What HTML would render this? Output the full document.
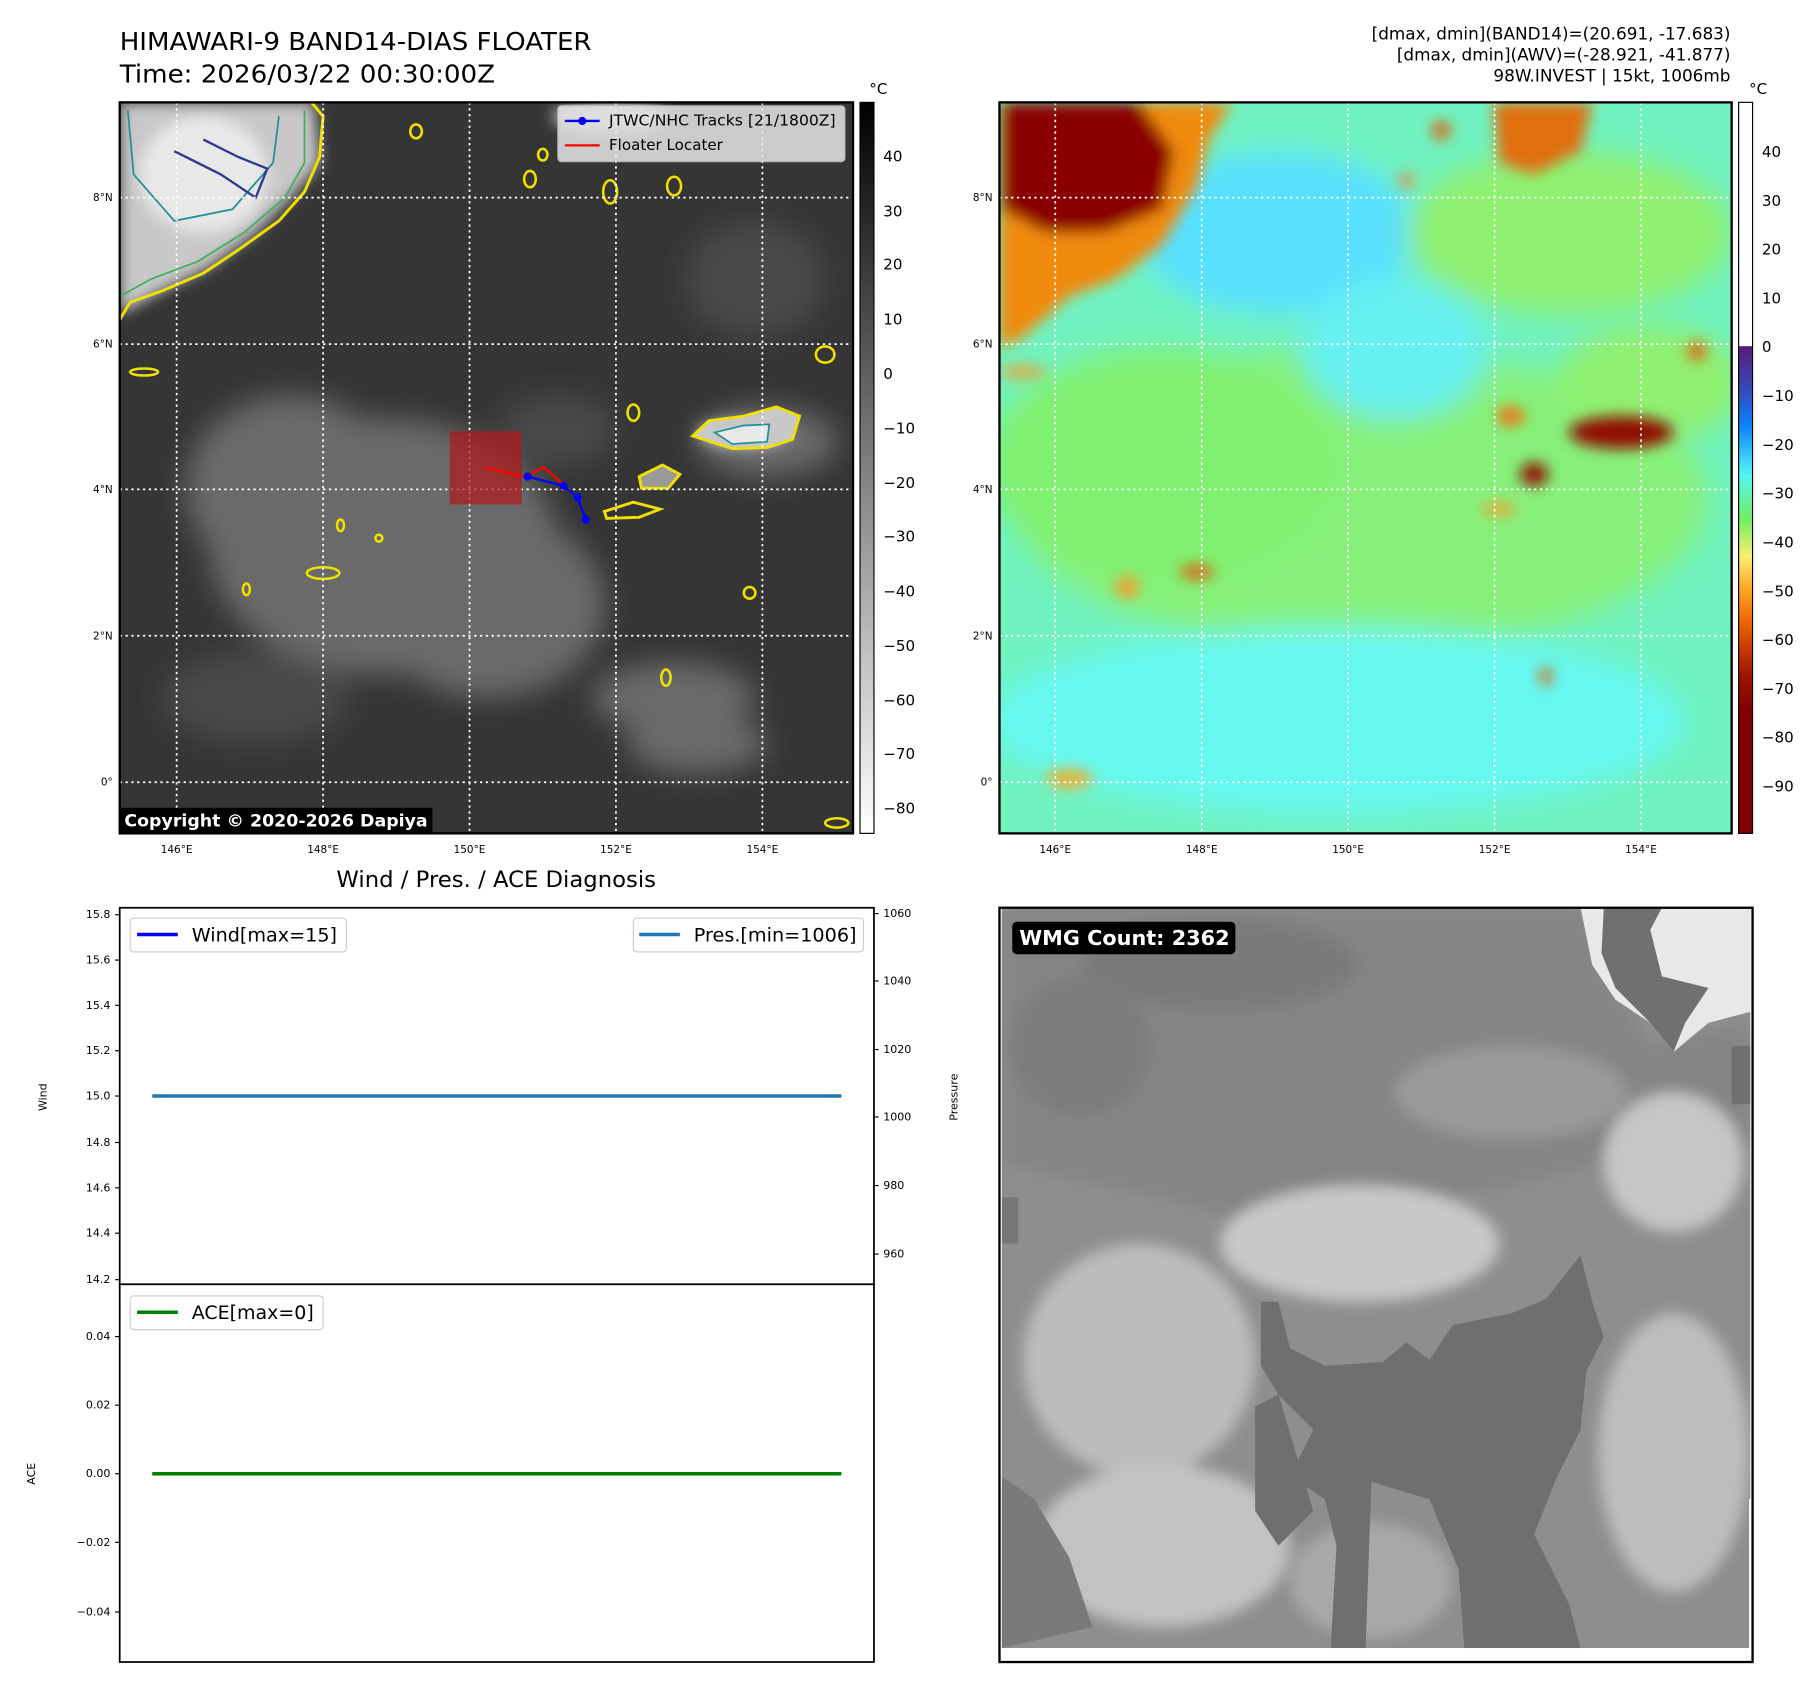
<!DOCTYPE html>
<html><head><meta charset="utf-8"><style>
html,body{margin:0;padding:0;background:#fff;}
svg{display:block;}
text{font-family:"DejaVu Sans","Liberation Sans",sans-serif;}
</style></head><body>
<svg width="1813" height="1690" viewBox="0 0 1560 1454" xmlns="http://www.w3.org/2000/svg">
<defs>
<filter id="b6" x="-50%" y="-50%" width="200%" height="200%"><feGaussianBlur stdDeviation="6"/></filter>
<filter id="b12" x="-50%" y="-50%" width="200%" height="200%"><feGaussianBlur stdDeviation="12"/></filter>
<linearGradient id="cbg" x1="0" y1="0" x2="0" y2="1"><stop offset="0" stop-color="#000"/><stop offset="1" stop-color="#fff"/></linearGradient>
<linearGradient id="cbc" x1="0" y1="0" x2="0" y2="1">
<stop offset="0" stop-color="#fff"/><stop offset="0.333" stop-color="#fff"/>
<stop offset="0.334" stop-color="#5a1a78"/><stop offset="0.40" stop-color="#3050c0"/>
<stop offset="0.44" stop-color="#0a80ff"/><stop offset="0.51" stop-color="#55f5f5"/>
<stop offset="0.57" stop-color="#70f060"/><stop offset="0.62" stop-color="#f8f070"/>
<stop offset="0.67" stop-color="#ffa020"/><stop offset="0.72" stop-color="#e65a00"/>
<stop offset="0.78" stop-color="#a01800"/><stop offset="0.83" stop-color="#800000"/>
<stop offset="1" stop-color="#800000"/></linearGradient>
<clipPath id="cl"><rect x="103" y="88" width="631" height="629"/></clipPath>
<clipPath id="cr"><rect x="860" y="88" width="630" height="629"/></clipPath>
<clipPath id="cw"><rect x="862" y="782" width="644" height="636"/></clipPath>
</defs>

<text x="103" y="43" font-size="21.5" textLength="406" lengthAdjust="spacingAndGlyphs">HIMAWARI-9 BAND14-DIAS FLOATER</text>
<text x="103" y="71" font-size="21.5" textLength="323" lengthAdjust="spacingAndGlyphs">Time: 2026/03/22 00:30:00Z</text>
<text x="1489" y="34" font-size="14.5" text-anchor="end">[dmax, dmin](BAND14)=(20.691, -17.683)</text>
<text x="1489" y="52" font-size="14.5" text-anchor="end">[dmax, dmin](AWV)=(-28.921, -41.877)</text>
<text x="1489" y="70" font-size="14.5" text-anchor="end">98W.INVEST | 15kt, 1006mb</text>

<g clip-path="url(#cl)">
<rect x="103" y="88" width="631" height="629" fill="#353535"/>
<g filter="url(#b12)" fill="#6a6a6a">
<ellipse cx="330" cy="470" rx="150" ry="110"/>
<ellipse cx="250" cy="420" rx="90" ry="80"/>
<ellipse cx="420" cy="520" rx="100" ry="80"/>
<ellipse cx="580" cy="600" rx="70" ry="30"/>
<ellipse cx="600" cy="640" rx="60" ry="25"/>
<ellipse cx="660" cy="380" rx="60" ry="30"/>
<ellipse cx="480" cy="370" rx="50" ry="30" fill="#4a4a4a"/>
<ellipse cx="650" cy="240" rx="60" ry="50" fill="#4a4a4a"/>
<ellipse cx="220" cy="600" rx="80" ry="40" fill="#4a4a4a"/>
</g>
<g filter="url(#b6)">
<path d="M103,88 L270,88 L275,140 L250,170 L220,200 L180,230 L140,250 L103,270 Z" fill="#c8c8c8"/>
<ellipse cx="175" cy="150" rx="55" ry="50" fill="#e8e8e8"/>
<ellipse cx="525" cy="100" rx="50" ry="15" fill="#b0b0b0"/>
<ellipse cx="640" cy="373" rx="40" ry="12" fill="#c0c0c0"/>
</g>
<path d="M103,275 L112,260 L140,250 L175,235 L205,215 L240,190 L262,165 L275,135 L278,100 L268,88" fill="none" stroke="#f0e000" stroke-width="2.5"/>
<path d="M103,255 L130,240 L170,225 L210,200 L245,170 L262,140 L262,95" fill="none" stroke="#40b060" stroke-width="1.5"/>
<path d="M110,95 L115,150 L150,190 L200,180 L235,140 L240,100" fill="none" stroke="#209090" stroke-width="1.5"/>
<path d="M150,130 L190,150 L220,170 L230,145 L205,135 L175,120" fill="none" stroke="#303890" stroke-width="2"/>
<path d="M596,375 L610,362 L640,358 L668,350 L688,358 L682,378 L660,385 L630,386 Z" fill="#c8c8c8" stroke="#f0e000" stroke-width="2.5"/>
<path d="M615,372 L640,366 L662,365 L660,380 L630,382 Z" fill="#e8e8e8" stroke="#209090" stroke-width="1.5"/>
<path d="M550,410 L570,400 L585,408 L575,420 L552,420 Z" fill="#9a9a9a" stroke="#f0e000" stroke-width="2.5"/>
<path d="M520,440 L545,432 L568,438 L550,445 L522,446 Z" fill="none" stroke="#f0e000" stroke-width="2.5"/>
<g fill="none" stroke="#f0e000" stroke-width="2.2">
<ellipse cx="358" cy="113" rx="5" ry="6"/><ellipse cx="456" cy="154" rx="5" ry="7"/>
<ellipse cx="580" cy="160" rx="6" ry="8"/><ellipse cx="467" cy="133" rx="4" ry="5"/>
<ellipse cx="545" cy="355" rx="5" ry="7"/><ellipse cx="710" cy="305" rx="8" ry="7"/>
<ellipse cx="124" cy="320" rx="12" ry="3"/><ellipse cx="293" cy="452" rx="3" ry="5"/>
<ellipse cx="278" cy="493" rx="14" ry="5"/><ellipse cx="212" cy="507" rx="3" ry="5"/>
<ellipse cx="645" cy="510" rx="5" ry="5"/><ellipse cx="573" cy="583" rx="4" ry="7"/>
<ellipse cx="326" cy="463" rx="3" ry="3"/><ellipse cx="525" cy="165" rx="6" ry="10"/>
<ellipse cx="720" cy="708" rx="10" ry="4"/>
</g>
</g>
<g stroke="#fff" stroke-width="1.5" stroke-dasharray="2,3" fill="none">
<line x1="152" y1="88" x2="152" y2="717"/><line x1="278" y1="88" x2="278" y2="717"/>
<line x1="404" y1="88" x2="404" y2="717"/><line x1="530" y1="88" x2="530" y2="717"/>
<line x1="656" y1="88" x2="656" y2="717"/>
<line x1="103" y1="170" x2="734" y2="170"/><line x1="103" y1="296" x2="734" y2="296"/>
<line x1="103" y1="421" x2="734" y2="421"/><line x1="103" y1="547" x2="734" y2="547"/>
<line x1="103" y1="673" x2="734" y2="673"/>
</g>
<rect x="387" y="371" width="62" height="63" fill="#b01818" opacity="0.7"/>
<polyline points="417,402 451,410 468,402 486,418" fill="none" stroke="#ff0000" stroke-width="2"/>
<polyline points="454,410 485,418 497,428 504,447" fill="none" stroke="#0000ff" stroke-width="2"/>
<g fill="#0000ff"><circle cx="454" cy="410" r="3.5"/><circle cx="485" cy="418" r="3.5"/><circle cx="497" cy="428" r="3.5"/><circle cx="504" cy="447" r="3.5"/></g>
<rect x="480" y="91" width="247" height="48" rx="3" fill="#e6e6e6" opacity="0.85" stroke="#ccc"/>
<line x1="486" y1="104" x2="516" y2="104" stroke="#0000ff" stroke-width="2"/><circle cx="501" cy="104" r="3.5" fill="#0000ff"/>
<line x1="486" y1="125" x2="516" y2="125" stroke="#ff0000" stroke-width="2"/>
<text x="524" y="108" font-size="13" textLength="195" lengthAdjust="spacingAndGlyphs">JTWC/NHC Tracks [21/1800Z]</text>
<text x="524" y="129" font-size="13">Floater Locater</text>
<rect x="103" y="695" width="269" height="22" fill="#000"/>
<text x="107" y="711" font-size="14.5" font-weight="bold" fill="#fff" textLength="261" lengthAdjust="spacingAndGlyphs">Copyright © 2020-2026 Dapiya</text>
<rect x="103" y="88" width="631" height="629" fill="none" stroke="#000" stroke-width="2"/>
<g font-size="9" text-anchor="end">
<text x="97" y="173">8°N</text><text x="97" y="299">6°N</text><text x="97" y="424">4°N</text><text x="97" y="550">2°N</text><text x="97" y="676">0°</text>
</g>
<g font-size="9" text-anchor="middle">
<text x="152" y="734">146°E</text><text x="278" y="734">148°E</text><text x="404" y="734">150°E</text><text x="530" y="734">152°E</text><text x="656" y="734">154°E</text>
</g>
<rect x="740" y="88" width="12" height="629" fill="url(#cbg)" stroke="#000" stroke-width="1"/>
<text x="748" y="81" font-size="13">°C</text>
<g font-size="13">
<text x="760" y="139">40</text><text x="760" y="186">30</text><text x="760" y="232">20</text><text x="760" y="279">10</text><text x="760" y="326">0</text>
<text x="760" y="373">−10</text><text x="760" y="420">−20</text><text x="760" y="466">−30</text><text x="760" y="513">−40</text><text x="760" y="560">−50</text>
<text x="760" y="607">−60</text><text x="760" y="653">−70</text><text x="760" y="700">−80</text>
</g>

<g clip-path="url(#cr)">
<rect x="860" y="88" width="630" height="629" fill="#70f2c0"/>
<g filter="url(#b12)">
<ellipse cx="1170" cy="430" rx="300" ry="130" fill="#86f07a"/>
<ellipse cx="1000" cy="400" rx="150" ry="100" fill="#80f070"/>
<ellipse cx="1100" cy="200" rx="120" ry="70" fill="#58e0ff"/>
<ellipse cx="1200" cy="300" rx="80" ry="60" fill="#66f0f0"/>
<ellipse cx="1150" cy="620" rx="300" ry="80" fill="#66f8f0"/>
<ellipse cx="1350" cy="200" rx="140" ry="70" fill="#90f070"/>
<ellipse cx="1420" cy="330" rx="80" ry="50" fill="#90f070"/>
</g>
<g filter="url(#b6)">
<path d="M860,88 L1060,88 L1040,120 L1030,160 L1000,210 L960,240 L920,255 L880,290 L860,300 Z" fill="#f08a10"/>
<path d="M862,88 L980,88 L1010,130 L1000,180 L950,200 L900,200 L862,180 Z" fill="#8a0000"/>
<path d="M1285,88 L1370,88 L1360,130 L1320,150 L1290,140 Z" fill="#e07010"/>
<ellipse cx="1395" cy="372" rx="45" ry="14" fill="#900800"/>
<ellipse cx="1320" cy="408" rx="12" ry="10" fill="#900800"/>
<ellipse cx="1300" cy="358" rx="12" ry="8" fill="#f07010"/>
<ellipse cx="1460" cy="302" rx="8" ry="8" fill="#e06010"/>
<ellipse cx="1240" cy="112" rx="8" ry="8" fill="#e06010"/>
<ellipse cx="880" cy="320" rx="20" ry="5" fill="#f0a030"/>
<ellipse cx="1030" cy="492" rx="15" ry="6" fill="#e06010"/>
<ellipse cx="970" cy="505" rx="10" ry="10" fill="#f0a030"/>
<ellipse cx="920" cy="670" rx="20" ry="8" fill="#f0b030"/>
<ellipse cx="1330" cy="582" rx="5" ry="8" fill="#e06010"/>
<ellipse cx="1290" cy="438" rx="15" ry="5" fill="#f0a030"/>
<ellipse cx="1210" cy="155" rx="6" ry="6" fill="#f08030"/>
</g>
</g>
<g stroke="#fff" stroke-width="1.5" stroke-dasharray="2,3" fill="none">
<line x1="908" y1="88" x2="908" y2="717"/><line x1="1034" y1="88" x2="1034" y2="717"/>
<line x1="1160" y1="88" x2="1160" y2="717"/><line x1="1286" y1="88" x2="1286" y2="717"/>
<line x1="1412" y1="88" x2="1412" y2="717"/>
<line x1="860" y1="170" x2="1490" y2="170"/><line x1="860" y1="296" x2="1490" y2="296"/>
<line x1="860" y1="421" x2="1490" y2="421"/><line x1="860" y1="547" x2="1490" y2="547"/>
<line x1="860" y1="673" x2="1490" y2="673"/>
</g>
<rect x="860" y="88" width="630" height="629" fill="none" stroke="#000" stroke-width="2"/>
<g font-size="9" text-anchor="end">
<text x="854" y="173">8°N</text><text x="854" y="299">6°N</text><text x="854" y="424">4°N</text><text x="854" y="550">2°N</text><text x="854" y="676">0°</text>
</g>
<g font-size="9" text-anchor="middle">
<text x="908" y="734">146°E</text><text x="1034" y="734">148°E</text><text x="1160" y="734">150°E</text><text x="1286" y="734">152°E</text><text x="1412" y="734">154°E</text>
</g>
<rect x="1496" y="88" width="12" height="629" fill="url(#cbc)" stroke="#000" stroke-width="1"/>
<text x="1505" y="81" font-size="13">°C</text>
<g font-size="13">
<text x="1516" y="135">40</text><text x="1516" y="177">30</text><text x="1516" y="219">20</text><text x="1516" y="261">10</text><text x="1516" y="303">0</text>
<text x="1516" y="345">−10</text><text x="1516" y="387">−20</text><text x="1516" y="429">−30</text><text x="1516" y="471">−40</text><text x="1516" y="513">−50</text>
<text x="1516" y="555">−60</text><text x="1516" y="597">−70</text><text x="1516" y="639">−80</text><text x="1516" y="681">−90</text>
</g>

<text x="427" y="763" font-size="19" text-anchor="middle" textLength="275" lengthAdjust="spacingAndGlyphs">Wind / Pres. / ACE Diagnosis</text>
<rect x="103" y="781" width="649" height="324" fill="#fff" stroke="#000" stroke-width="1.5"/>
<rect x="103" y="1105" width="649" height="325" fill="#fff" stroke="#000" stroke-width="1.5"/>
<line x1="131" y1="943" x2="724" y2="943" stroke="#1f77b4" stroke-width="3"/>
<line x1="131" y1="1268" x2="724" y2="1268" stroke="#008000" stroke-width="3"/>
<g stroke="#000" stroke-width="1">
<line x1="99" y1="787" x2="103" y2="787"/><line x1="99" y1="826" x2="103" y2="826"/><line x1="99" y1="865" x2="103" y2="865"/><line x1="99" y1="904" x2="103" y2="904"/><line x1="99" y1="943" x2="103" y2="943"/><line x1="99" y1="983" x2="103" y2="983"/><line x1="99" y1="1022" x2="103" y2="1022"/><line x1="99" y1="1061" x2="103" y2="1061"/><line x1="99" y1="1101" x2="103" y2="1101"/>
<line x1="752" y1="786" x2="756" y2="786"/><line x1="752" y1="844" x2="756" y2="844"/><line x1="752" y1="903" x2="756" y2="903"/><line x1="752" y1="961" x2="756" y2="961"/><line x1="752" y1="1020" x2="756" y2="1020"/><line x1="752" y1="1079" x2="756" y2="1079"/>
<line x1="99" y1="1150" x2="103" y2="1150"/><line x1="99" y1="1209" x2="103" y2="1209"/><line x1="99" y1="1268" x2="103" y2="1268"/><line x1="99" y1="1327" x2="103" y2="1327"/><line x1="99" y1="1387" x2="103" y2="1387"/>
</g>
<g font-size="9.5" text-anchor="end">
<text x="95" y="790">15.8</text><text x="95" y="829">15.6</text><text x="95" y="868">15.4</text><text x="95" y="907">15.2</text><text x="95" y="946">15.0</text><text x="95" y="986">14.8</text><text x="95" y="1025">14.6</text><text x="95" y="1064">14.4</text><text x="95" y="1104">14.2</text>
<text x="95" y="1153">0.04</text><text x="95" y="1212">0.02</text><text x="95" y="1271">0.00</text><text x="95" y="1330">−0.02</text><text x="95" y="1390">−0.04</text>
</g>
<g font-size="9.5">
<text x="760" y="789">1060</text><text x="760" y="847">1040</text><text x="760" y="906">1020</text><text x="760" y="964">1000</text><text x="760" y="1023">980</text><text x="760" y="1082">960</text>
</g>
<text font-size="9.5" transform="translate(40,944) rotate(-90)" text-anchor="middle">Wind</text>
<text font-size="9.5" transform="translate(824,944) rotate(-90)" text-anchor="middle">Pressure</text>
<text font-size="9.5" transform="translate(30,1268) rotate(-90)" text-anchor="middle">ACE</text>
<rect x="112" y="790" width="186" height="29" rx="3" fill="#fff" stroke="#ccc"/>
<line x1="118" y1="804" x2="153" y2="804" stroke="#0000ff" stroke-width="3"/>
<text x="165" y="810" font-size="16" textLength="125" lengthAdjust="spacingAndGlyphs">Wind[max=15]</text>
<rect x="545" y="790" width="198" height="29" rx="3" fill="#fff" stroke="#ccc"/>
<line x1="550" y1="804" x2="585" y2="804" stroke="#1f77b4" stroke-width="3"/>
<text x="597" y="810" font-size="16" textLength="140" lengthAdjust="spacingAndGlyphs">Pres.[min=1006]</text>
<rect x="112" y="1115" width="166" height="29" rx="3" fill="#fff" stroke="#ccc"/>
<line x1="118" y1="1129" x2="153" y2="1129" stroke="#008000" stroke-width="3"/>
<text x="165" y="1135" font-size="16" textLength="105" lengthAdjust="spacingAndGlyphs">ACE[max=0]</text>

<g clip-path="url(#cw)">
<rect x="860" y="781" width="648" height="649" fill="#8e8e8e"/>
<g filter="url(#b6)">
<path d="M862,782 L1360,782 L1380,840 L1420,900 L1505,880 L1505,1000 L1420,990 L1300,1020 L1200,1040 L1100,1060 L1000,1030 L900,1010 L862,1000 Z" fill="#858585"/>
<ellipse cx="1050" cy="830" rx="120" ry="40" fill="#7a7a7a"/>
<ellipse cx="930" cy="900" rx="60" ry="60" fill="#7c7c7c"/>
<ellipse cx="1300" cy="940" rx="100" ry="40" fill="#9a9a9a"/>
<ellipse cx="1170" cy="1070" rx="120" ry="50" fill="#c8c8c8"/>
<ellipse cx="980" cy="1170" rx="100" ry="100" fill="#bcbcbc"/>
<ellipse cx="1000" cy="1330" rx="110" ry="70" fill="#c2c2c2"/>
<ellipse cx="1180" cy="1360" rx="70" ry="50" fill="#a8a8a8"/>
<ellipse cx="1440" cy="1250" rx="65" ry="120" fill="#bdbdbd"/>
<ellipse cx="1440" cy="1000" rx="60" ry="60" fill="#c6c6c6"/>
</g>
<path d="M1360,781 L1508,781 L1508,870 L1470,880 L1440,905 L1420,880 L1390,860 L1370,830 Z" fill="#e8e8e8"/>
<path d="M1380,781 L1430,781 L1420,800 L1430,840 L1470,850 L1450,880 L1440,905 L1420,880 L1390,850 L1378,820 Z" fill="#707070"/>
<rect x="1490" y="900" width="18" height="50" fill="#707070"/>
<path d="M1100,1120 L1110,1160 L1140,1175 L1190,1172 L1210,1155 L1230,1170 L1250,1140 L1300,1130 L1330,1118 L1360,1080 L1370,1120 L1380,1150 L1365,1180 L1360,1230 L1340,1270 L1320,1320 L1350,1380 L1360,1418 L1260,1418 L1255,1350 L1230,1290 L1180,1275 L1175,1418 L1145,1418 L1150,1330 L1140,1290 L1110,1270 L1130,1230 L1100,1200 L1085,1175 L1085,1120 Z" fill="#6f6f6f"/>
<path d="M1100,1200 L1080,1210 L1080,1300 L1100,1330 L1130,1300 Z" fill="#6f6f6f"/>
<path d="M862,1270 L890,1290 L920,1340 L940,1400 L862,1418 Z" fill="#7a7a7a"/>
<rect x="862" y="1030" width="14" height="40" fill="#777"/>
</g>
<rect x="1505" y="1290" width="3" height="128" fill="#fff"/>
<rect x="862" y="1418" width="644" height="12" fill="#fff"/>
<rect x="860" y="781" width="648" height="649" fill="none" stroke="#000" stroke-width="2"/>
<rect x="871" y="793" width="192" height="28" rx="4" fill="#000"/>
<text x="877" y="813" font-size="17.5" font-weight="bold" fill="#fff" textLength="181" lengthAdjust="spacingAndGlyphs">WMG Count: 2362</text>
</svg>
</body></html>
